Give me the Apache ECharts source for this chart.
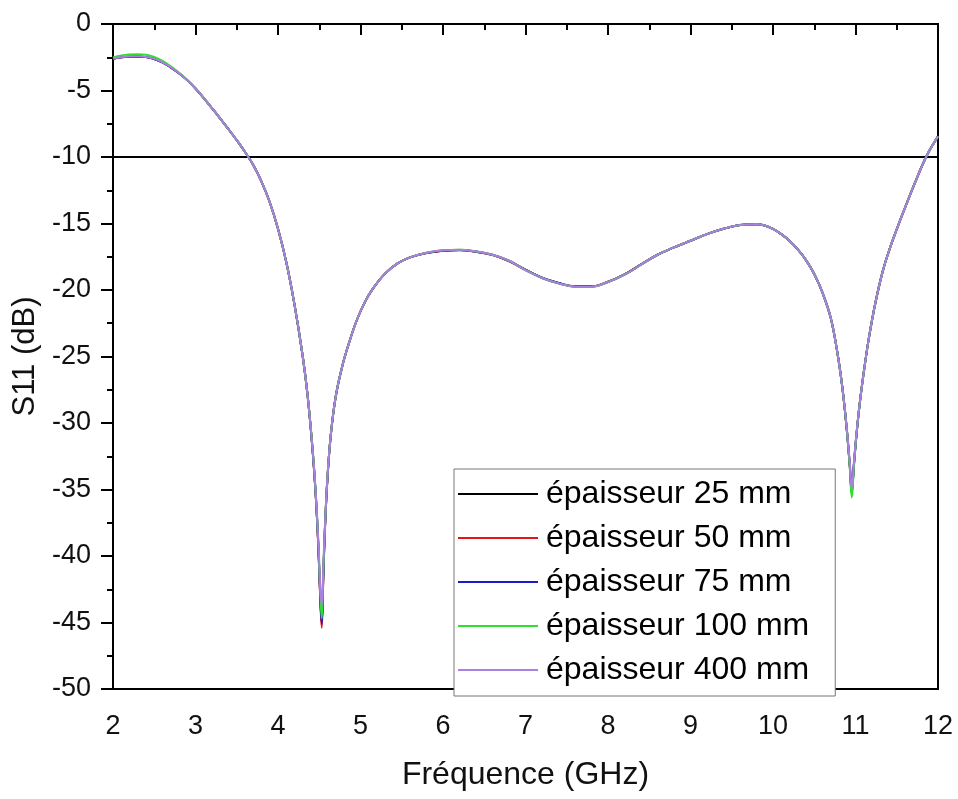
<!DOCTYPE html>
<html>
<head>
<meta charset="utf-8">
<script src="https://cdn.jsdelivr.net/npm/echarts@6/dist/echarts.min.js"></script>
<style>html,body{margin:0;padding:0;background:#fff;}#c{width:958px;height:799px;}</style>
</head>
<body>
<div id="c"></div>
<script>
const freq = [2.0, 2.1, 2.2, 2.3, 2.4, 2.5, 2.6, 2.7, 2.8, 2.9, 3.0, 3.1, 3.2, 3.3, 3.4, 3.5, 3.6, 3.7, 3.8, 3.9, 4.0, 4.1, 4.2, 4.3,
  4.36, 4.42, 4.46, 4.49, 4.51, 4.53, 4.55, 4.57, 4.6, 4.64, 4.7, 4.78, 4.86, 4.95, 5.05,
  5.15, 5.3, 5.45, 5.6, 5.8, 6.0, 6.2, 6.4, 6.6, 6.8, 7.0, 7.2, 7.4, 7.6, 7.8, 8.0, 8.2, 8.4, 8.6, 8.8, 9.0, 9.2, 9.4, 9.6, 9.8, 9.9, 10.0,
  10.1, 10.2, 10.3, 10.4, 10.5, 10.6, 10.7,
  10.78, 10.84, 10.89, 10.93, 10.955, 10.98, 11.01, 11.05, 11.1, 11.16, 11.24, 11.33, 11.42, 11.52, 11.62, 11.72, 11.8, 11.88, 11.95, 12.0];

const s25 = [-2.62, -2.51, -2.46, -2.44, -2.49, -2.63, -2.89, -3.26, -3.7, -4.22, -4.85, -5.57, -6.33, -7.11, -7.91, -8.74, -9.62, -10.6, -11.85, -13.4, -15.4, -17.9, -21.1, -25.0,
  -28.0, -32.1, -35.7, -39.4, -42.7, -45.0, -41.3, -37.8, -34.1, -30.9, -28.0, -25.7, -24.0, -22.35, -20.95,
  -19.9, -18.75, -18.0, -17.55, -17.22, -17.04, -17.0, -17.12, -17.36, -17.82, -18.47, -19.07, -19.47, -19.72, -19.72, -19.38, -18.82, -18.08, -17.35, -16.8, -16.3, -15.8, -15.4, -15.12, -15.05, -15.15, -15.4,
  -15.8, -16.3, -16.95, -17.75, -18.8, -20.2, -22.1,
  -24.7, -27.3, -30.2, -33.1, -35.2, -33.2, -31.0, -28.6, -26.2, -23.7, -21.0, -18.6, -16.8, -15.1, -13.5, -11.95, -10.75, -9.7, -8.95, -8.45];
const s50 = [-2.62, -2.51, -2.46, -2.44, -2.49, -2.63, -2.89, -3.26, -3.7, -4.22, -4.85, -5.57, -6.33, -7.11, -7.91, -8.74, -9.62, -10.6, -11.85, -13.4, -15.4, -17.9, -21.1, -25.0,
  -28.0, -32.1, -35.7, -39.5, -42.9, -45.4, -41.5, -37.8, -34.1, -30.9, -28.0, -25.7, -24.0, -22.35, -20.95,
  -19.9, -18.75, -18.0, -17.55, -17.22, -17.05, -17.01, -17.13, -17.38, -17.85, -18.5, -19.1, -19.5, -19.73, -19.73, -19.38, -18.82, -18.08, -17.35, -16.8, -16.3, -15.8, -15.4, -15.12, -15.05, -15.15, -15.4,
  -15.8, -16.3, -16.95, -17.75, -18.8, -20.2, -22.1,
  -24.7, -27.3, -30.2, -33.1, -35.2, -33.2, -31.0, -28.6, -26.2, -23.7, -21.0, -18.6, -16.8, -15.1, -13.5, -11.95, -10.75, -9.7, -8.95, -8.45];
const s75 = [-2.62, -2.51, -2.46, -2.44, -2.49, -2.63, -2.89, -3.26, -3.7, -4.22, -4.85, -5.57, -6.33, -7.11, -7.91, -8.74, -9.62, -10.6, -11.85, -13.4, -15.4, -17.9, -21.1, -25.0,
  -28.0, -32.1, -35.7, -39.4, -42.7, -45.1, -41.3, -37.8, -34.1, -30.9, -28.0, -25.7, -24.0, -22.35, -20.95,
  -19.9, -18.75, -18.0, -17.55, -17.21, -17.03, -16.99, -17.11, -17.35, -17.8, -18.48, -19.08, -19.48, -19.74, -19.74, -19.4, -18.84, -18.1, -17.35, -16.8, -16.3, -15.8, -15.4, -15.12, -15.05, -15.15, -15.4,
  -15.8, -16.3, -16.95, -17.75, -18.8, -20.2, -22.1,
  -24.7, -27.3, -30.2, -33.2, -35.3, -33.2, -31.0, -28.6, -26.2, -23.7, -21.0, -18.6, -16.8, -15.1, -13.5, -11.95, -10.75, -9.7, -8.95, -8.45];
const s100 = [-2.52, -2.36, -2.29, -2.27, -2.32, -2.48, -2.78, -3.18, -3.66, -4.2, -4.84, -5.57, -6.33, -7.11, -7.91, -8.74, -9.62, -10.6, -11.85, -13.4, -15.4, -17.9, -21.1, -25.0,
  -28.0, -32.0, -35.6, -39.2, -42.4, -44.7, -41.1, -37.7, -34.0, -30.9, -28.0, -25.7, -24.0, -22.35, -20.95,
  -19.9, -18.75, -18.0, -17.55, -17.2, -17.02, -16.97, -17.1, -17.35, -17.8, -18.5, -19.1, -19.5, -19.75, -19.75, -19.4, -18.85, -18.1, -17.35, -16.8, -16.3, -15.8, -15.4, -15.12, -15.05, -15.15, -15.4,
  -15.8, -16.3, -16.95, -17.75, -18.8, -20.2, -22.1,
  -24.7, -27.3, -30.2, -33.3, -35.6, -33.4, -31.0, -28.6, -26.2, -23.7, -21.0, -18.6, -16.8, -15.1, -13.5, -11.95, -10.75, -9.7, -8.95, -8.45];
const s400 = [-2.6, -2.5, -2.45, -2.43, -2.48, -2.62, -2.88, -3.25, -3.7, -4.22, -4.85, -5.57, -6.33, -7.11, -7.91, -8.74, -9.62, -10.6, -11.85, -13.4, -15.4, -17.9, -21.1, -25.0,
  -28.0, -32.0, -35.5, -39.0, -42.0, -43.8, -40.6, -37.6, -34.0, -30.9, -28.0, -25.7, -24.0, -22.35, -20.95,
  -19.9, -18.75, -18.0, -17.55, -17.2, -17.02, -16.97, -17.1, -17.35, -17.8, -18.5, -19.1, -19.5, -19.75, -19.75, -19.4, -18.85, -18.1, -17.35, -16.8, -16.3, -15.8, -15.4, -15.12, -15.05, -15.15, -15.4,
  -15.8, -16.3, -16.95, -17.75, -18.8, -20.2, -22.1,
  -24.7, -27.3, -30.1, -32.9, -34.9, -33.0, -30.9, -28.6, -26.2, -23.7, -21.0, -18.6, -16.8, -15.1, -13.5, -11.95, -10.75, -9.7, -8.95, -8.45];

const names = ['épaisseur 25 mm', 'épaisseur 50 mm', 'épaisseur 75 mm', 'épaisseur 100 mm', 'épaisseur 400 mm'];
const colors = ['#000000', '#e8141c', '#1a1acc', '#2ee02e', '#a981de'];
const values = [s25, s50, s75, s100, s400];
const threshold = -10;

const font = 'Liberation Sans, Arial, sans-serif';
const chart = echarts.init(document.getElementById('c'), null, {renderer: 'canvas'});

const series = values.map((v, i) => ({
  name: names[i],
  type: 'line',
  data: freq.map((f, k) => [f, v[k]]),
  symbol: 'none',
  smooth: 0.4,
  lineStyle: {color: colors[i], width: 2},
  itemStyle: {color: colors[i]},
  z: 2 + i,
  animation: false
}));
series[0].markLine = {
  silent: true,
  symbol: 'none',
  label: {show: false},
  lineStyle: {color: '#000', width: 2, type: 'solid'},
  data: [{yAxis: threshold}],
  animation: false
};

chart.setOption({
  animation: false,
  backgroundColor: '#fff',
  grid: {left: 113, right: 20, top: 24, bottom: 110, show: true, borderColor: '#000', borderWidth: 2, backgroundColor: 'transparent'},
  legend: {
    orient: 'vertical',
    left: 454, top: 469,
    padding: [9, 26, 10, 4],
    itemWidth: 80, itemHeight: 14, itemGap: 12,
    backgroundColor: '#fff',
    borderColor: '#777', borderWidth: 1,
    icon: 'path://M0,0 L80,0 L80,2 L0,2 Z',
    textStyle: {fontFamily: font, fontSize: 32, color: '#000', lineHeight: 30.5, padding: [0, 0, 0, 3]},
    data: names
  },
  xAxis: {
    type: 'value', min: 2, max: 12, interval: 1,
    name: 'Fréquence (GHz)', nameLocation: 'middle', nameGap: 70,
    nameTextStyle: {fontFamily: font, fontSize: 32, color: '#111'},
    axisLine: {show: true, lineStyle: {color: '#000', width: 2}},
    axisTick: {show: true, length: 11, lineStyle: {color: '#000', width: 2}},
    minorTick: {show: true, splitNumber: 2, length: 6, lineStyle: {color: '#000', width: 2}},
    axisLabel: {fontFamily: font, fontSize: 27, color: '#111', margin: 24},
    splitLine: {show: false}
  },
  yAxis: {
    type: 'value', min: -50, max: 0, interval: 5,
    name: 'S11 (dB)', nameLocation: 'middle', nameGap: 63, nameRotate: 90,
    nameTextStyle: {fontFamily: font, fontSize: 31, color: '#111'},
    axisLine: {show: true, lineStyle: {color: '#000', width: 2}},
    axisTick: {show: true, length: 12, lineStyle: {color: '#000', width: 2}},
    minorTick: {show: true, splitNumber: 2, length: 6, lineStyle: {color: '#000', width: 2}},
    axisLabel: {fontFamily: font, fontSize: 27, color: '#111', margin: 22},
    splitLine: {show: false}
  },
  series: series
});
</script>
</body>
</html>
